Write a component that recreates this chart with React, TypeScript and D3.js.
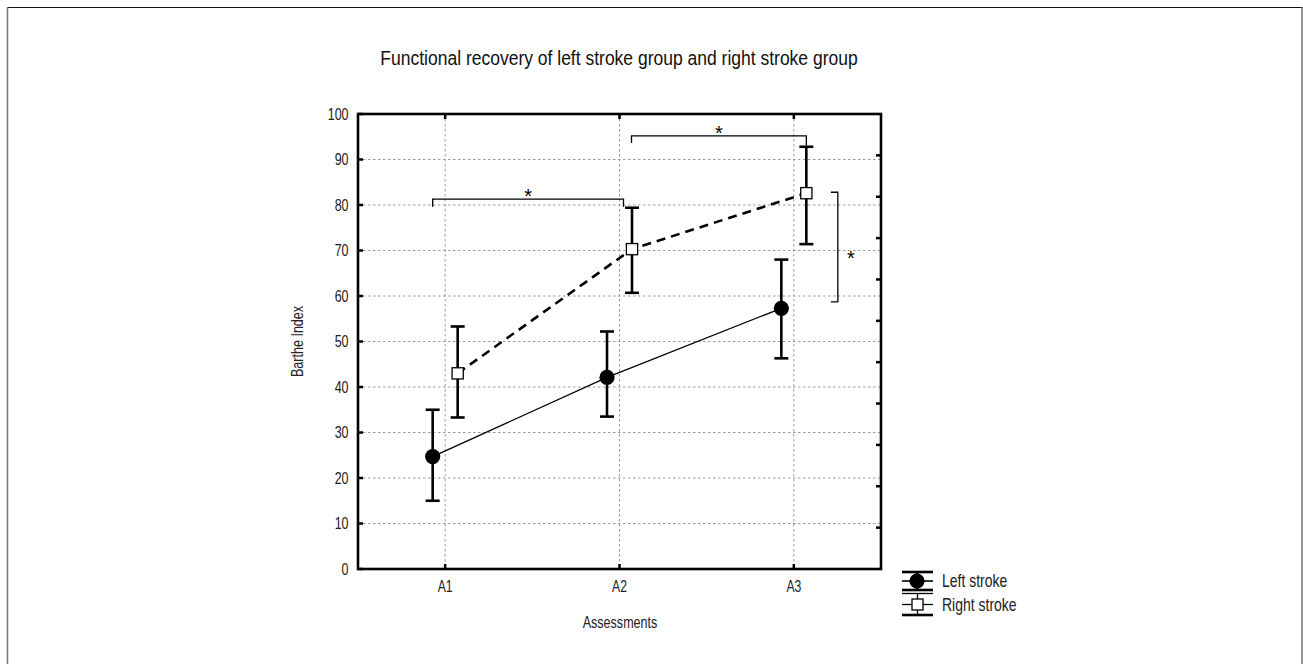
import React from "react";
import * as d3 from "d3";

const categories = ["A1", "A2", "A3"];
const leftMean = [24.7, 42.1, 57.3];
const leftLow = [15.0, 33.5, 46.3];
const leftHigh = [35.0, 52.2, 68.0];
const rightMean = [43.0, 70.3, 82.6];
const rightLow = [33.3, 60.7, 71.4];
const rightHigh = [53.3, 79.4, 92.8];
const yTicks = [0, 10, 20, 30, 40, 50, 60, 70, 80, 90, 100];
const rightAxisTicks = [1, 2, 3, 4, 5, 6, 7, 8, 9, 10];
const legendLabels = ["Left stroke", "Right stroke"];
const titleText = "Functional recovery of left stroke group and right stroke group";
const xTitle = "Assessments";
const yTitle = "Barthe Index";
// significance brackets
const hBrackets = [
  { from: "A1", to: "A2", level: 81.3, dropL: 79.6, dropR: 79.6 },
  { from: "A2", to: "A3", level: 95.2, dropL: 93.6, dropR: 93.1 },
];
const vBracket = { at: "A3", top: 82.8, bottom: 58.7 };

const FONT = "'Liberation Sans', Arial, sans-serif";

function T(props: {
  x: number;
  y: number;
  size: number;
  s: number;
  anchor?: string;
  rotate?: number;
  fill?: string;
  children: React.ReactNode;
}) {
  const { x, y, size, s, anchor = "start", rotate = 0, fill = "#222", children } = props;
  return (
    <g transform={`translate(${x},${y}) rotate(${rotate}) scale(${s},1)`}>
      <text x={0} y={0} fontSize={size} textAnchor={anchor} fill={fill} fontFamily={FONT}>
        {children}
      </text>
    </g>
  );
}

export default function App() {
  const W = 1303, H = 664;
  const m = { left: 358, right: 881, top: 114, bottom: 569 };
  const x = d3.scaleBand<string>().domain(categories).range([m.left, m.right]);
  const cx = (c: string) => (x(c) as number) + x.bandwidth() / 2;
  const y = d3.scaleLinear().domain([0, 100]).range([m.bottom, m.top]);
  const yR = d3.scaleLinear().domain([0, 11]).range([m.bottom, m.top]);
  const off = 12.5;
  const leftX = (i: number) => cx(categories[i]) - off;
  const rightX = (i: number) => cx(categories[i]) + off;
  const leftPath = d3
    .line<number>()
    .x((_, i) => leftX(i))
    .y((d) => y(d))(leftMean) as string;
  const rightPath = d3
    .line<number>()
    .x((_, i) => rightX(i))
    .y((d) => y(d))(rightMean) as string;

  const errBar = (xx: number, lo: number, hi: number, key: string) => (
    <g key={key} stroke="#000" strokeWidth={2.6}>
      <line x1={xx} x2={xx} y1={y(lo)} y2={y(hi)} />
      <line x1={xx - 7} x2={xx + 7} y1={y(lo)} y2={y(lo)} />
      <line x1={xx - 7} x2={xx + 7} y1={y(hi)} y2={y(hi)} />
    </g>
  );

  const bx1 = [leftX(0), cx(hBrackets[1].from) + 12];
  const bx2 = [cx(hBrackets[0].to) + 4, rightX(2)];
  const vbx = cx(vBracket.at) + 44;

  return (
    <svg
      width={W}
      height={H}
      style={{ position: "absolute", left: 0, top: 0, background: "#fff" }}
      fontFamily={FONT}
    >
      <rect x={0} y={0} width={W} height={H} fill="#fff" />
      {/* outer frame */}
      <line x1={7} x2={W} y1={7.5} y2={7.5} stroke="#111" strokeWidth={1.2} />
      <line x1={7.5} x2={7.5} y1={7} y2={H} stroke="#777" strokeWidth={1.5} />
      <line x1={1302} x2={1302} y1={7} y2={H} stroke="#777" strokeWidth={1.5} />

      {/* title */}
      <T x={619} y={65} size={20} s={0.875} anchor="middle" fill="#111">
        {titleText}
      </T>

      {/* grid */}
      <g stroke="#9a9a9a" strokeWidth={1} strokeDasharray="2.5,2.5">
        {yTicks.slice(1, -1).map((t) => (
          <line key={"gy" + t} x1={m.left} x2={m.right} y1={y(t)} y2={y(t)} />
        ))}
        {categories.map((c) => (
          <line key={"gx" + c} x1={cx(c)} x2={cx(c)} y1={m.top} y2={m.bottom} />
        ))}
      </g>

      {/* ticks */}
      <g stroke="#000" strokeWidth={2.5}>
        {yTicks.map((t) => (
          <line key={"ly" + t} x1={m.left} x2={m.left + 5} y1={y(t)} y2={y(t)} />
        ))}
        {rightAxisTicks.map((t) => (
          <line key={"ry" + t} x1={m.right - 5} x2={m.right} y1={yR(t)} y2={yR(t)} />
        ))}
        {categories.map((c) => (
          <g key={"tx" + c}>
            <line x1={cx(c)} x2={cx(c)} y1={m.top} y2={m.top + 5} />
            <line x1={cx(c)} x2={cx(c)} y1={m.bottom - 5} y2={m.bottom} />
          </g>
        ))}
      </g>

      {/* y tick labels */}
      {yTicks.map((t) => (
        <T key={"yl" + t} x={348.5} y={y(t) + 5.8} size={16} s={0.78} anchor="end">
          {t}
        </T>
      ))}
      {/* x tick labels */}
      {categories.map((c) => (
        <T key={"xl" + c} x={cx(c)} y={592} size={16} s={0.76} anchor="middle">
          {c}
        </T>
      ))}
      <T x={620} y={627.5} size={17} s={0.74} anchor="middle">
        {xTitle}
      </T>
      <T x={303} y={(m.top + m.bottom) / 2} size={17} s={0.74} rotate={-90} anchor="middle">
        {yTitle}
      </T>

      {/* lines */}
      <path d={leftPath} fill="none" stroke="#000" strokeWidth={1.3} />
      <path d={rightPath} fill="none" stroke="#000" strokeWidth={2.6} strokeDasharray="9,6" />

      {/* error bars */}
      {categories.map((_, i) => errBar(leftX(i), leftLow[i], leftHigh[i], "le" + i))}
      {categories.map((_, i) => errBar(rightX(i), rightLow[i], rightHigh[i], "re" + i))}

      {/* markers */}
      {leftMean.map((v, i) => (
        <circle key={"lc" + i} cx={leftX(i)} cy={y(v)} r={7.6} fill="#000" />
      ))}
      {rightMean.map((v, i) => (
        <rect
          key={"rs" + i}
          x={rightX(i) - 5.6}
          y={y(v) - 5.6}
          width={11.2}
          height={11.2}
          fill="#fff"
          stroke="#000"
          strokeWidth={1.3}
        />
      ))}

      {/* axes frame */}
      <rect
        x={m.left}
        y={m.top}
        width={m.right - m.left}
        height={m.bottom - m.top}
        fill="none"
        stroke="#000"
        strokeWidth={2.6}
      />

      {/* significance brackets */}
      <g stroke="#000" strokeWidth={1.3} fill="none">
        <path
          d={`M${bx1[0]},${y(hBrackets[0].dropL)}V${y(hBrackets[0].level)}H${bx2[0]}V${y(hBrackets[0].dropR)}`}
        />
        <path
          d={`M${bx1[1]},${y(hBrackets[1].dropL)}V${y(hBrackets[1].level)}H${bx2[1]}V${y(hBrackets[1].dropR)}`}
        />
        <path
          d={`M${vbx - 7},${y(vBracket.top)}H${vbx}V${y(vBracket.bottom)}H${vbx - 7}`}
        />
      </g>
      <T x={(bx1[0] + bx2[0]) / 2} y={y(hBrackets[0].level) + 4} size={20} s={1} anchor="middle" fill="#000">
        *
      </T>
      <T x={(bx1[1] + bx2[1]) / 2} y={y(hBrackets[1].level) + 4} size={20} s={1} anchor="middle" fill="#000">
        *
      </T>
      <T
        x={vbx + 13}
        y={y((vBracket.top + vBracket.bottom) / 2) + 18}
        size={20}
        s={1}
        anchor="middle"
        fill="#000"
      >
        *
      </T>

      {/* legend */}
      <g stroke="#000" strokeWidth={2.6}>
        <line x1={902} x2={933} y1={572} y2={572} />
        <line x1={902} x2={933} y1={590} y2={590} />
        <line x1={917} x2={917} y1={572} y2={590} />
        <line x1={902} x2={933} y1={581} y2={581} strokeWidth={1.6} />
        <line x1={902} x2={933} y1={593.5} y2={593.5} strokeWidth={1.3} />
        <line x1={902} x2={933} y1={615} y2={615} />
        <line x1={917.5} x2={917.5} y1={593.5} y2={615} strokeWidth={1.3} />
        <line x1={902} x2={933} y1={604.5} y2={604.5} strokeWidth={1.3} />
      </g>
      <circle cx={917} cy={581} r={7.6} fill="#000" />
      <rect x={912} y={599} width={11} height={11} fill="#fff" stroke="#000" strokeWidth={1.3} />
      <T x={942} y={587} size={17.5} s={0.8}>
        {legendLabels[0]}
      </T>
      <T x={942} y={611} size={17.5} s={0.8}>
        {legendLabels[1]}
      </T>
    </svg>
  );
}
